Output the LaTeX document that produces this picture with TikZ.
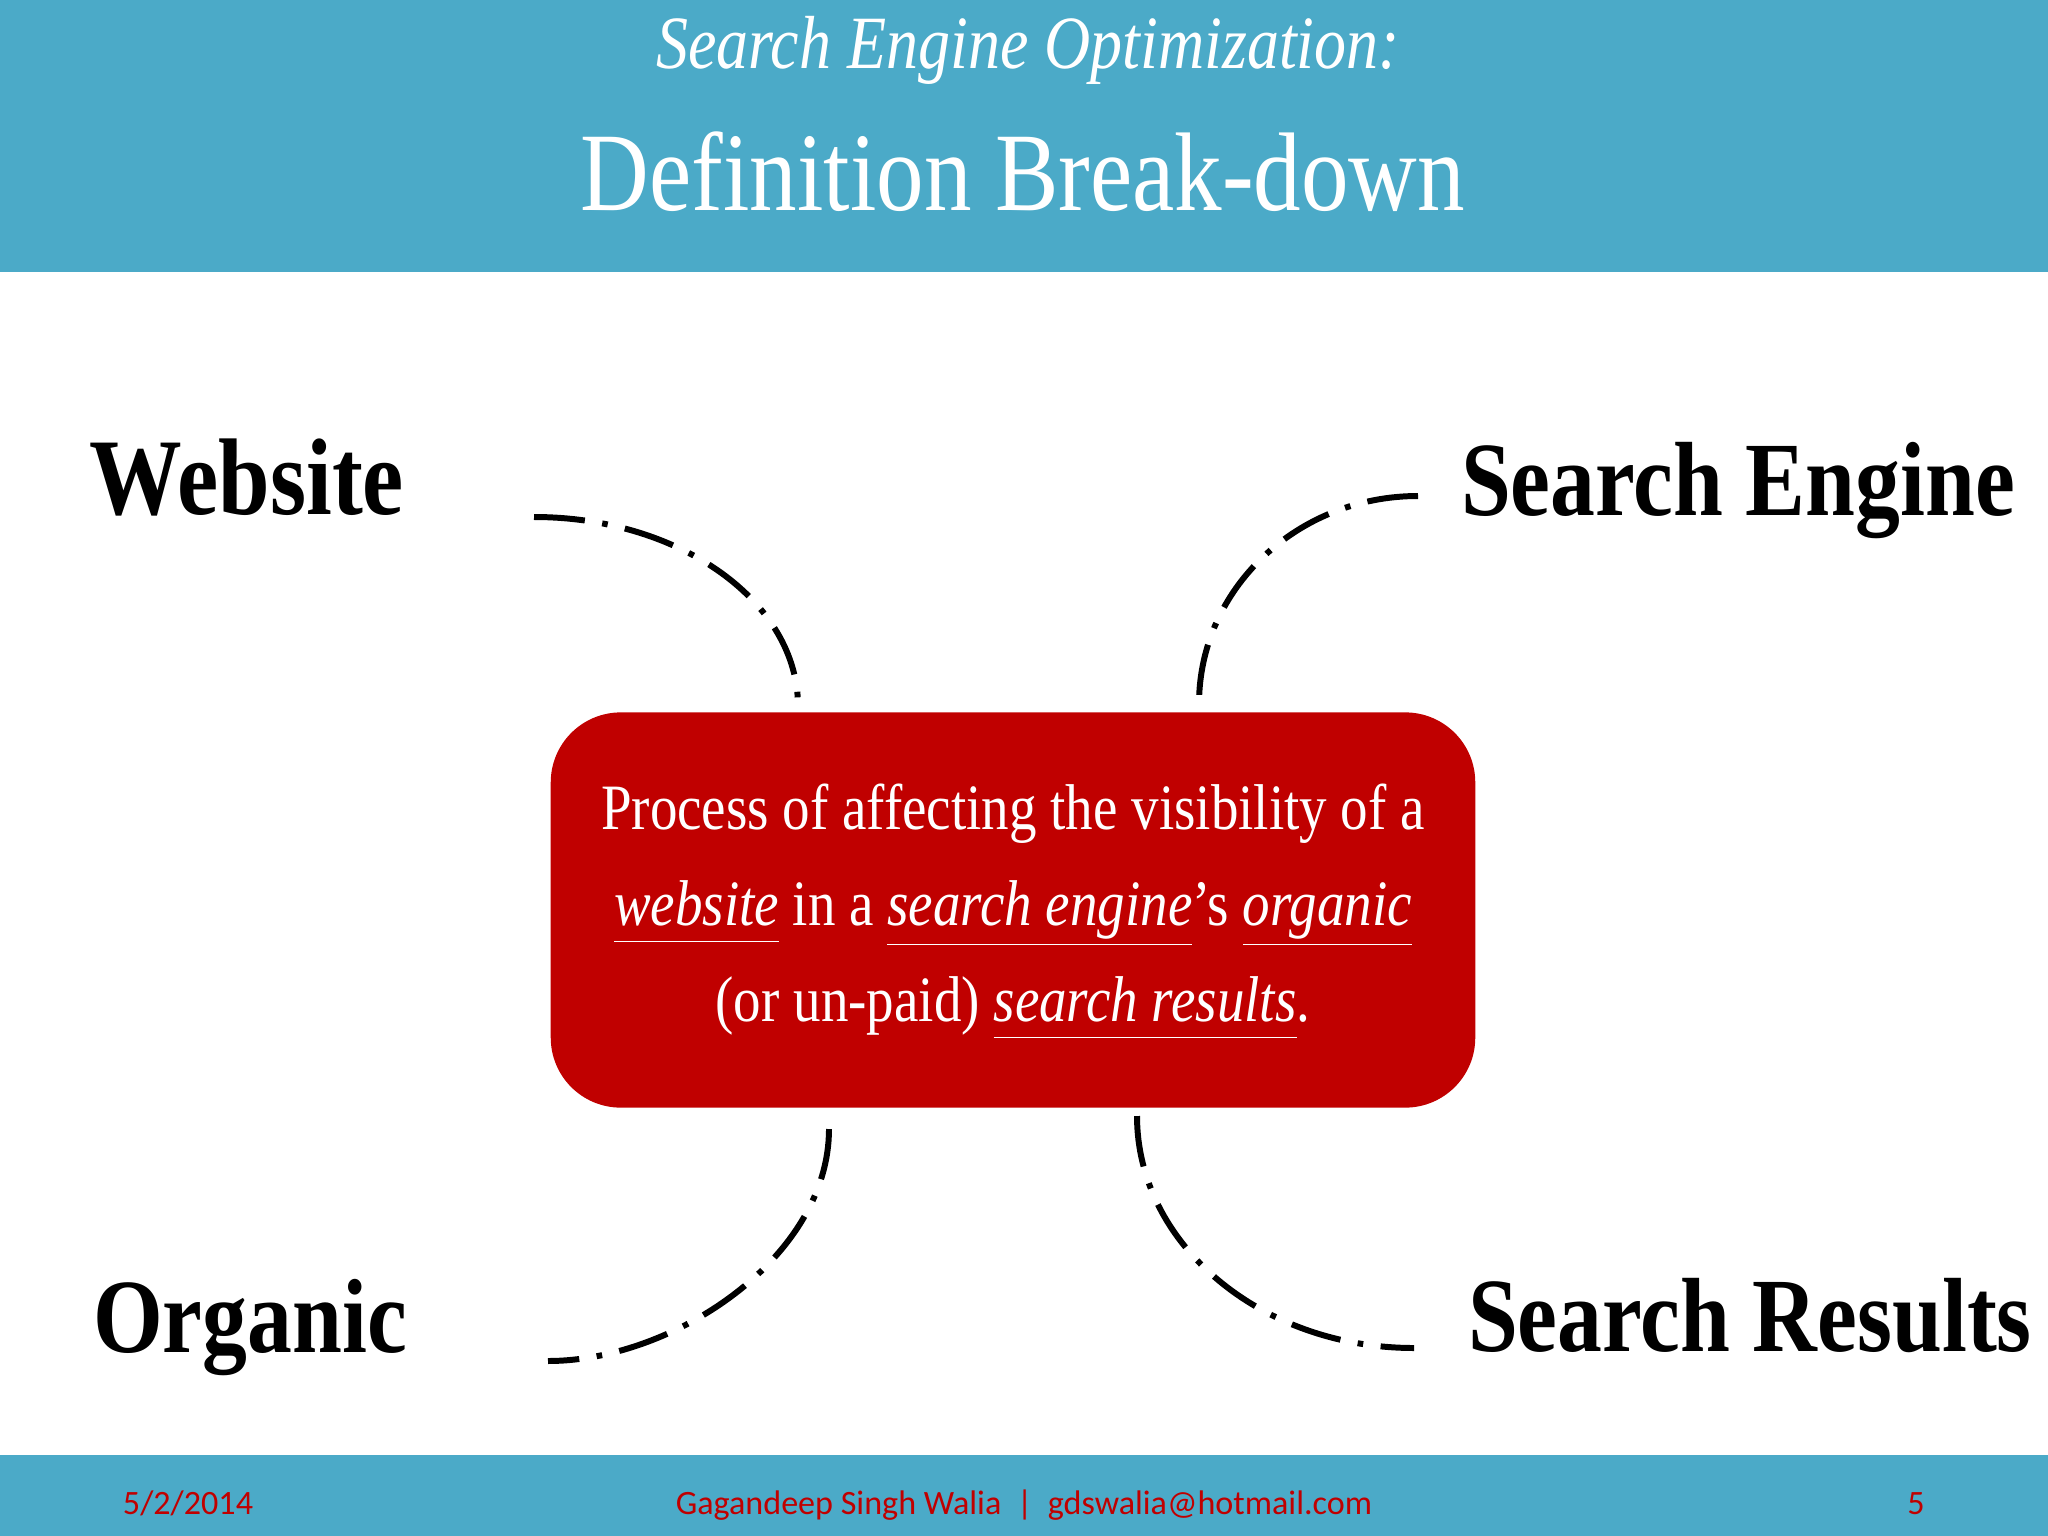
\documentclass[tikz,border=0pt]{standalone}
\usepackage{fontspec}
\setmainfont[FakeStretch=0.85]{Liberation Serif}
\newfontfamily\footfont{Carlito}
\usepackage{tikz}
\usetikzlibrary{calc}
\definecolor{bandblue}{RGB}{75,170,200}
\definecolor{boxred}{RGB}{192,0,0}
\tikzstyle{band} = [rectangle, fill=bandblue, draw=none, minimum width=20.6cm, inner sep=0pt, anchor=north west]
\tikzstyle{term} = [font=\fontsize{30}{30}\selectfont\bfseries, text=black, inner sep=0pt, anchor=base]
\tikzstyle{foot} = [font=\footfont\fontsize{9.7}{10}\selectfont, text=boxred, inner sep=0pt, anchor=base]
\tikzstyle{line} = [draw, line width=1.7pt, dash pattern=on 14.5pt off 5pt on 1.6pt off 5pt]
\newcommand{\ul}[1]{\smash{\underline{\textit{#1}\rule[-3pt]{0pt}{0pt}}}}

\begin{document}
\begin{tikzpicture}[x=0.01cm, y=-0.01cm]
    \useasboundingbox (0,0) rectangle (2048,1536);
    % Bands
    \node [band, minimum height=2.76cm] (head) at (-5,-5) {};
    \node [band, minimum height=0.87cm] (bottom) at (-5,1454) {};
    \node [font=\fontsize{21.4}{22}\selectfont\itshape, text=white, anchor=base] (title1) at (1028,68) {Search Engine Optimization:};
    \node [font=\fontsize{31.8}{32}\selectfont, text=white, anchor=base] (title2) at (1023,210) {Definition Break-down};

    % Center
    \node [rectangle, rounded corners=0.7cm, fill=boxred, minimum width=9.24cm, minimum height=3.95cm,
        text=white, align=center, inner sep=0pt, font=\fontsize{18.4}{27.3}\selectfont] (center) at (1013,910)
        {Process of affecting the visibility of a\\
        \ul{website} in a \ul{search engine}'s \ul{organic}\\
        (or un-paid) \ul{search results}.};

    % Terms
    \node [term, font=\fontsize{31}{31}\selectfont\bfseries] (website) at (247,514) {Website};
    \node [term] (engine) at (1738,515) {Search Engine};
    \node [term] (organic) at (250,1352) {Organic};
    \node [term] (results) at (1750,1351) {Search Results};

    % Edges
    \coordinate (websiteEnd) at (534,517);
    \coordinate (engineEnd) at (1418,496);
    \coordinate (organicEnd) at (548,1361);
    \coordinate (resultsEnd) at (1414,1348);
    \coordinate (centerTL) at (798,706);
    \coordinate (centerTR) at (1199,704);
    \coordinate (centerBL) at (829,1129);
    \coordinate (centerBR) at (1137,1116);
    \path [line] (websiteEnd) .. controls (680,517) and (798,602) .. (centerTL);
    \path [line] (engineEnd) .. controls (1297,496) and (1199,589) .. (centerTR);
    \path [line] (centerBL) .. controls (829,1257) and (674,1361) .. (organicEnd);
    \path [line] (centerBR) .. controls (1137,1244) and (1261,1348) .. (resultsEnd);

    % Footer
    \node [foot] (date) at (188,1514) {5/2/2014};
    \node [foot] (author) at (1024,1514) {Gagandeep Singh Walia~~|~~gdswalia@hotmail.com};
    \node [foot] (page) at (1916,1514) {5};
\end{tikzpicture}
\end{document}
